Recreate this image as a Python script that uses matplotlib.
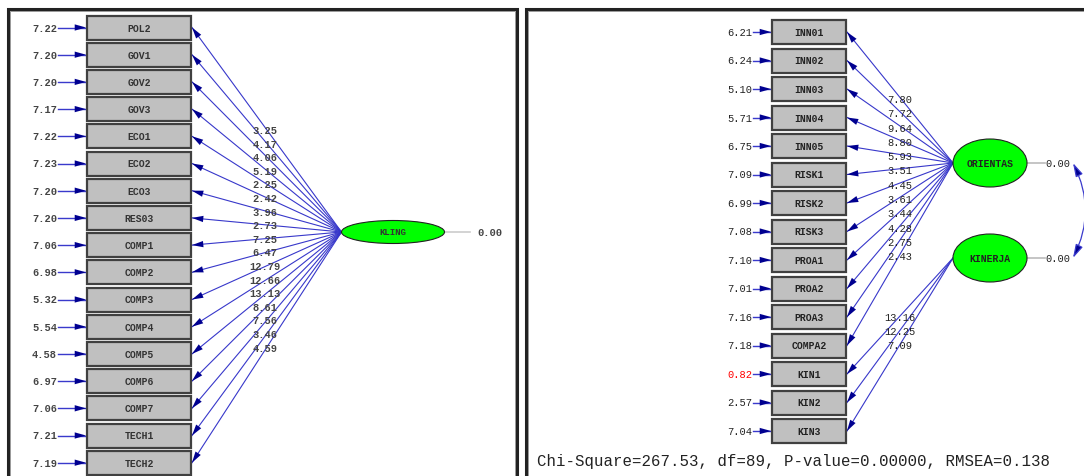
import matplotlib
matplotlib.use("Agg")
import matplotlib.pyplot as plt
from matplotlib.patches import Rectangle, Ellipse

# left model: KLING
left_names = ["POL2", "GOV1", "GOV2", "GOV3", "ECO1", "ECO2", "ECO3", "RES03",
              "COMP1", "COMP2", "COMP3", "COMP4", "COMP5", "COMP6", "COMP7",
              "TECH1", "TECH2"]
left_errors = ["7.22", "7.20", "7.20", "7.17", "7.22", "7.23", "7.20", "7.20",
               "7.06", "6.98", "5.32", "5.54", "4.58", "6.97", "7.06", "7.21", "7.19"]
left_paths = ["3.25", "4.17", "4.06", "5.19", "2.25", "2.42", "3.96", "2.73",
              "7.25", "6.47", "12.79", "12.66", "13.13", "8.61", "7.56", "3.46", "4.59"]
left_latent = "KLING"

# right model: ORIENTAS / KINERJA
right_names = ["INN01", "INN02", "INN03", "INN04", "INN05", "RISK1", "RISK2", "RISK3",
               "PROA1", "PROA2", "PROA3", "COMPA2", "KIN1", "KIN2", "KIN3"]
right_errors = ["6.21", "6.24", "5.10", "5.71", "6.75", "7.09", "6.99", "7.08",
                "7.10", "7.01", "7.16", "7.18", "0.82", "2.57", "7.04"]
orient_paths = ["7.80", "7.72", "9.64", "8.80", "5.93", "3.51", "4.45", "3.61",
                "3.44", "4.28", "2.75", "2.43"]
kinerja_paths = ["13.16", "12.25", "7.09"]
latent_var = "0.00"
fit_text = "Chi-Square=267.53, df=89, P-value=0.00000, RMSEA=0.138"

BOX_FC = "#c0c0c0"
BOX_EC = "#404040"
LINE = "#3a3acc"
HEAD = "#000090"
GREEN = "#00ff00"
MONO = "Liberation Mono"

fig = plt.figure(figsize=(10.84, 4.77), dpi=100)
ax = fig.add_axes([0, 0, 1, 1])
ax.set_xlim(0, 1084)
ax.set_ylim(477, 0)
ax.axis("off")


def arrow(x0, y0, x1, y1, lw=0.8, hs=9):
    # line drawn lighter, head drawn navy on top
    ax.plot([x0, x1], [y0, y1], color=LINE, lw=lw, zorder=2)
    ax.annotate("", xy=(x1, y1), xytext=(x0, y0),
                arrowprops=dict(arrowstyle="-|>,head_length=0.9,head_width=0.25",
                                lw=0.01, shrinkA=0, shrinkB=0,
                                mutation_scale=hs, fc=HEAD, ec=HEAD), zorder=3)


# panel frames
for x0, x1 in [(8, 517), (526, 1090)]:
    ax.plot([x0, x0, x1, x1], [490, 10, 10, 490], color="#222222", lw=2.2,
            solid_joinstyle="miter")
    ax.plot([x0 + 2, x0 + 2, x1 - 2, x1 - 2], [490, 12, 12, 490],
            color="#999999", lw=0.7)

# ---- left panel ----
lx0, lx1, lh = 87, 191, 24
ly0, lstep = 28.5, 27.2
kx, ky, kw, kh = 393, 233, 103, 23
for i, name in enumerate(left_names):
    yc = ly0 + lstep * i
    ax.add_patch(Rectangle((lx0, yc - lh / 2), lx1 - lx0, lh, fc=BOX_FC,
                           ec=BOX_EC, lw=1.6, zorder=3))
    ax.text((lx0 + lx1) / 2, yc, name, ha="center", va="center", family=MONO,
            fontsize=7, weight="bold", color="#333333", zorder=4)
    ax.text(57, yc, left_errors[i], ha="right", va="center", family=MONO,
            fontsize=7.5, weight="bold", color="#444444")
    arrow(58, yc, lx0 - 1, yc, lw=1.0)
    arrow(kx - kw / 2, ky, lx1 + 1, yc, lw=0.8)

for i, v in enumerate(left_paths):
    ax.text(265, 131 + 13.6 * i, v, ha="center", va="center", family=MONO,
            fontsize=7.5, weight="bold", color="#444444", zorder=5)

ax.add_patch(Ellipse((kx, ky), kw, kh, fc=GREEN, ec="#222222", lw=0.8, zorder=4))
ax.text(kx, ky, left_latent, ha="center", va="center", family=MONO,
        fontsize=6.5, weight="bold", color="#333333", zorder=5)
ax.plot([kx + kw / 2, 470], [ky, ky], color="#cccccc", lw=1.2)
ax.text(490, ky, latent_var, ha="center", va="center", family=MONO,
        fontsize=7.5, weight="bold", color="#444444")

# ---- right panel ----
rx0, rx1, rh = 772, 846, 24
ry0, rstep = 33, 28.5
ox, oy, ow, oh = 990, 164, 74, 48
kjy = 259
for i, name in enumerate(right_names):
    yc = ry0 + rstep * i
    ax.add_patch(Rectangle((rx0, yc - rh / 2), rx1 - rx0, rh, fc=BOX_FC,
                           ec=BOX_EC, lw=1.6, zorder=3))
    ax.text((rx0 + rx1) / 2, yc, name, ha="center", va="center", family=MONO,
            fontsize=7, weight="bold", color="#222222", zorder=4)
    col = "red" if right_errors[i] == "0.82" else "#222222"
    ax.text(752, yc, right_errors[i], ha="right", va="center", family=MONO,
            fontsize=7.5, color=col)
    arrow(753, yc, rx0 - 1, yc, lw=1.0)
    src_y = oy if i < len(orient_paths) else kjy
    arrow(ox - ow / 2, src_y, rx1 + 1, yc, lw=0.8)

for i, v in enumerate(orient_paths):
    ax.text(900, 100 + 14.3 * i, v, ha="center", va="center", family=MONO,
            fontsize=7.5, color="#222222", zorder=5)
for i, v in enumerate(kinerja_paths):
    ax.text(900, 318 + 14 * i, v, ha="center", va="center", family=MONO,
            fontsize=7.5, color="#222222", zorder=5)

for yc, name in [(oy, "ORIENTAS"), (kjy, "KINERJA")]:
    ax.add_patch(Ellipse((ox, yc), ow, oh, fc=GREEN, ec="#222222", lw=0.8, zorder=4))
    ax.text(ox, yc, name, ha="center", va="center", family=MONO,
            fontsize=7, weight="bold", color="#222222", zorder=5)
    ax.plot([ox + ow / 2, 1045], [yc, yc], color="#bbbbbb", lw=1.2)
    ax.text(1058, yc, latent_var, ha="center", va="center", family=MONO,
            fontsize=7.5, color="#222222")

ax.annotate("", xy=(1073, kjy), xytext=(1073, oy),
            arrowprops=dict(arrowstyle="<|-|>,head_length=0.9,head_width=0.25",
                            connectionstyle="arc3,rad=-0.25", color=LINE, lw=0.9,
                            mutation_scale=9, fc=HEAD, shrinkA=0, shrinkB=0))

ax.text(537, 462, fit_text, ha="left", va="center", family=MONO,
        fontsize=11.3, color="#222222")

fig.savefig("out.png", dpi=100)
